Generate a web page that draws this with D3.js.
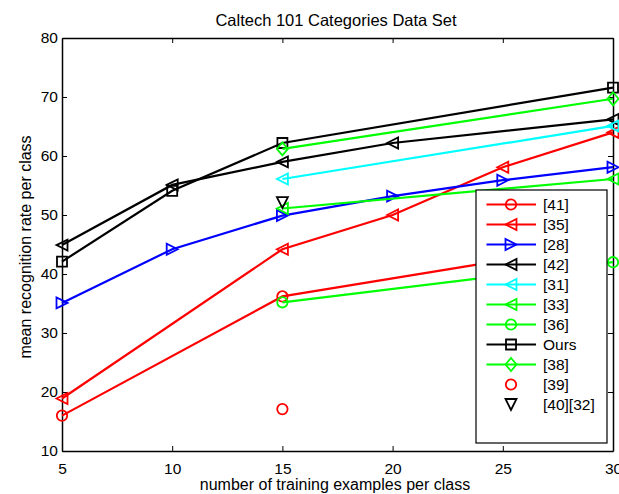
<!DOCTYPE html>
<html>
<head>
<meta charset="utf-8">
<script src="https://cdn.jsdelivr.net/npm/d3@7"></script>
<style>
  body { margin: 0; background: #fff; }
  svg { font-family: "Liberation Sans", Arial, sans-serif; }
</style>
</head>
<body>
<div id="chart"></div>
<script>
// ---- data ----
const xTicks = [5, 10, 15, 20, 25, 30];
const yTicks = [10, 20, 30, 40, 50, 60, 70, 80];

const s41 = [[5, 16], [15, 36.2], [25, 42.3]];
const s35 = [[5, 18.9], [15, 44.2], [20, 50], [25, 58.1], [30, 64]];
const s28 = [[5, 35.1], [10, 44.2], [15, 49.9], [20, 53.2], [25, 55.9], [30, 58.1]];
const s42 = [[5, 44.9], [10, 55.1], [15, 59], [20, 62.2], [30, 66.2]];
const s31 = [[15, 56.1], [30, 65.1]];
const s33 = [[15, 51.1], [30, 56.1]];
const s36 = [[15, 35.2], [30, 42]];
const sOurs = [[5, 42.1], [10, 54.1], [15, 62.2], [30, 71.6]];
const s38 = [[15, 61.2], [30, 69.7]];
const s39 = [[15, 17.1]];
const s4032 = [[15, 52.1]];

const seriesNames = ["[41]", "[35]", "[28]", "[42]", "[31]", "[33]", "[36]", "Ours", "[38]", "[39]", "[40][32]"];
const seriesValues = [s41, s35, s28, s42, s31, s33, s36, sOurs, s38, s39, s4032];
const seriesColors = ["#ff0000", "#ff0000", "#0000ff", "#000000", "#00ffff", "#00ff00", "#00ff00", "#000000", "#00ff00", "#ff0000", "#000000"];
const seriesMarkers = ["circle", "left", "right", "left", "left", "left", "circle", "square", "diamond", "circle", "down"];
const seriesLines = [true, true, true, true, true, true, true, true, true, false, false];

// ---- layout ----
const width = 619, height = 494;
const margin = { top: 38, right: 6, bottom: 43, left: 62 };
const innerWidth = width - margin.left - margin.right;
const innerHeight = height - margin.top - margin.bottom;

const svg = d3.select("#chart")
  .append("svg")
    .attr("width", width)
    .attr("height", height);

const innerChart = svg.append("g")
  .attr("transform", `translate(${margin.left}, ${margin.top})`);

const xScale = d3.scaleLinear().domain([5, 30]).range([0, innerWidth]);
const yScale = d3.scaleLinear().domain([10, 80]).range([innerHeight, 0]);

// markers drawn as paths around (0,0)
const markerPath = (type) => {
  const r = 5.5;
  switch (type) {
    case "left": return `M${-r},0L${r},${-r}L${r},${r}Z`;
    case "right": return `M${r},0L${-r},${-r}L${-r},${r}Z`;
    case "down": return `M${-r},${-r}L${r},${-r}L0,${r}Z`;
    case "square": return `M${-r + 0.5},${-r + 0.5}H${r - 0.5}V${r - 0.5}H${-r + 0.5}Z`;
    case "diamond": return `M0,${-r - 1}L${r},0L0,${r + 1}L${-r},0Z`;
  }
};
const drawMarker = (g, type, color) => {
  if (type === "circle") {
    g.append("circle").attr("r", 5.2)
      .attr("fill", "none").attr("stroke", color).attr("stroke-width", 1.8);
  } else {
    g.append("path").attr("d", markerPath(type))
      .attr("fill", "none").attr("stroke", color).attr("stroke-width", 1.8);
  }
};

// axes (MATLAB-style box with inward ticks)
const bottomAxis = d3.axisBottom(xScale).tickValues(xTicks).tickSize(-5).tickSizeOuter(0).tickPadding(12);
const leftAxis = d3.axisLeft(yScale).tickValues(yTicks).tickSize(-5).tickSizeOuter(0).tickPadding(4);
const topAxis = d3.axisTop(xScale).tickValues(xTicks).tickSize(-5).tickSizeOuter(0);
const rightAxis = d3.axisRight(yScale).tickValues(yTicks).tickSize(-5).tickSizeOuter(0);

innerChart.append("g").attr("transform", `translate(0, ${innerHeight})`).call(bottomAxis);
innerChart.append("g").call(leftAxis);
innerChart.append("g").attr("class", "no-labels").call(topAxis);
innerChart.append("g").attr("class", "no-labels").attr("transform", `translate(${innerWidth}, 0)`).call(rightAxis);
innerChart.selectAll(".no-labels .tick text").remove();

innerChart.selectAll(".tick text")
  .attr("fill", "#000")
  .style("font-size", "15.5px");
innerChart.selectAll(".domain, .tick line")
  .attr("stroke", "#000")
  .attr("stroke-width", 1);
innerChart.selectAll(".domain").attr("stroke-width", 1.5);

// lines and markers
const lineGenerator = d3.line()
  .x(d => xScale(d[0]))
  .y(d => yScale(d[1]));

seriesValues.forEach((values, i) => {
  if (seriesLines[i]) {
    innerChart.append("path")
      .datum(values)
      .attr("d", lineGenerator)
      .attr("fill", "none")
      .attr("stroke", seriesColors[i])
      .attr("stroke-width", 2.2);
  }
  values.forEach(d => {
    const g = innerChart.append("g")
      .attr("transform", `translate(${xScale(d[0])}, ${yScale(d[1])})`);
    drawMarker(g, seriesMarkers[i], seriesColors[i]);
  });
});

// legend
const legend = svg.append("g").attr("transform", "translate(476, 190)");
legend.append("rect")
  .attr("width", 131).attr("height", 253)
  .attr("fill", "#fff").attr("stroke", "#000").attr("stroke-width", 1.2);

seriesNames.forEach((name, i) => {
  const row = legend.append("g").attr("transform", `translate(0, ${14.5 + i * 20})`);
  if (seriesLines[i]) {
    row.append("line")
      .attr("x1", 10.5).attr("x2", 60)
      .attr("stroke", seriesColors[i]).attr("stroke-width", 2.2);
  }
  const m = row.append("g").attr("transform", "translate(35, 0)");
  drawMarker(m, seriesMarkers[i], seriesColors[i]);
  row.append("text")
    .attr("x", 67).attr("y", 5.5)
    .style("font-size", "15.5px")
    .text(name);
});

// title and axis labels
svg.append("text")
  .attr("x", 336).attr("y", 26)
  .attr("text-anchor", "middle")
  .style("font-size", "16.5px")
  .text("Caltech 101 Categories Data Set");

svg.append("text")
  .attr("x", 335).attr("y", 490)
  .attr("text-anchor", "middle")
  .style("font-size", "16px")
  .text("number of training examples per class");

svg.append("text")
  .attr("transform", "translate(31, 247) rotate(-90)")
  .attr("text-anchor", "middle")
  .style("font-size", "16px")
  .text("mean recognition rate per class");
</script>
</body>
</html>
